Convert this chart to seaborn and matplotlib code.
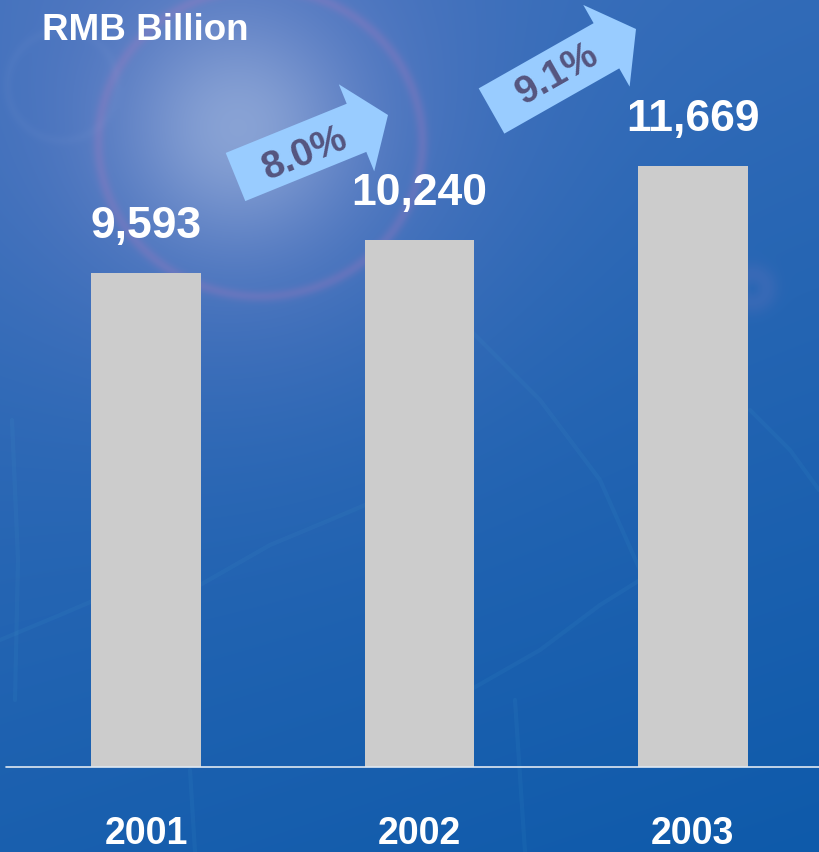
import numpy as np
import pandas as pd
import matplotlib
matplotlib.use("Agg")
import matplotlib.pyplot as plt
import seaborn as sns
from matplotlib.patches import FancyArrow

# --- data -------------------------------------------------------------
years = ["2001", "2002", "2003"]
values = [9593, 10240, 11669]
growth_labels = ["8.0%", "9.1%"]
unit_label = "RMB Billion"

W, H, DPI = 819, 852, 100

sns.set_theme(style="white")
plt.rcParams["font.family"] = ["Liberation Sans", "DejaVu Sans"]


# --- blue slide backdrop with a soft lens flare -------------------------
def backdrop():
    yy, xx = np.mgrid[0:H, 0:W].astype(float)
    top = np.array([60, 112, 188]) / 255
    bottom = np.array([14, 90, 170]) / 255
    t = np.clip(0.75 * yy / H + 0.25 * xx / W, 0, 1)[..., None]
    img = top * (1 - t) + bottom * t

    def blend(img, weight, color):
        w = np.clip(weight, 0, 1)[..., None]
        return img * (1 - w) + np.array(color) / 255 * w

    cx, cy = 238, 128
    r = np.hypot(xx - cx, yy - cy)
    img = blend(img, 0.45 * np.exp(-(r / 250) ** 2), (135, 138, 205))
    img = blend(img, 0.52 * np.exp(-(r / 105) ** 2), (180, 200, 230))
    ring = np.hypot((xx - 260) / 1.0, (yy - 142) / 0.95)
    img = blend(img, 0.24 * np.exp(-((ring - 162) / 6) ** 2), (180, 120, 190))
    small = np.hypot(xx - 62, yy - 85)
    img = blend(img, 0.06 * np.exp(-((small - 55) / 5) ** 2), (150, 170, 220))
    spot = np.hypot(xx - 752, yy - 288)
    img = blend(img, 0.14 * np.exp(-((spot - 14) / 12) ** 2), (160, 130, 200))
    return img


fig = plt.figure(figsize=(W / DPI, H / DPI), dpi=DPI)
bg = fig.add_axes([0, 0, 1, 1])
bg.imshow(backdrop(), extent=[0, W, H, 0], aspect="auto", interpolation="bilinear")
# faint network strands
strands = [
    [(470, 330), (540, 400), (600, 480), (640, 570)],
    [(470, 690), (540, 650), (600, 605), (640, 580)],
    [(200, 585), (270, 545), (330, 520), (365, 505)],
    [(750, 410), (790, 450), (819, 490)],
    [(12, 420), (18, 560), (15, 700)],
    [(190, 770), (195, 852)],
    [(515, 700), (525, 852)],
    [(0, 640), (60, 615), (95, 600)],
]
for s in strands:
    xs, ys = zip(*s)
    bg.plot(xs, ys, color="#4fb0d8", lw=3, alpha=0.08, solid_capstyle="round")
bg.set_xlim(0, W)
bg.set_ylim(H, 0)
bg.axis("off")

# --- bars -------------------------------------------------------------
ax = fig.add_axes([0, 0, 1, 1])
ax.patch.set_alpha(0)
df = pd.DataFrame({"year": years, "value": values})
sns.barplot(data=df, x="year", y="value", color="#cccccc", saturation=1,
            width=0.402, edgecolor="none", linewidth=0, ax=ax)
ax.set_xlim(-0.534, 2.461)
ax.set_ylim(-1650, 14894)
ax.axis("off")
ax.axhline(0, xmin=6 / W, xmax=1, color="#dfe8f2", lw=1.2)

for i, v in enumerate(values):
    ax.annotate(f"{v:,}", (i, v), xytext=(0, 25), textcoords="offset points",
                ha="center", va="baseline", color="white", fontsize=32,
                fontweight="bold")
    ax.text(i, -1500, years[i], ha="center", va="baseline", color="white",
            fontsize=27, fontweight="bold")

fig.text(42 / W, 1 - 40 / H, unit_label, ha="left", va="baseline",
         color="white", fontsize=26.5, fontweight="bold")

# --- growth arrows between the bars -------------------------------------
ov = fig.add_axes([0, 0, 1, 1])
ov.set_xlim(0, W)
ov.set_ylim(H, 0)
ov.axis("off")
ov.patch.set_alpha(0)
arrow_geo = [
    # tail centre, tip, label centre
    ((235.5, 177), (388, 115), (305, 154)),
    ((491.5, 111), (636, 29), (557, 74)),
]
for (tail, tip, centre), label in zip(arrow_geo, growth_labels):
    dx, dy = tip[0] - tail[0], tip[1] - tail[1]
    ov.add_patch(FancyArrow(tail[0], tail[1], dx, dy, width=52, head_width=94,
                            head_length=34, length_includes_head=True,
                            color="#99ccff", lw=0))
    angle = np.degrees(np.arctan2(-dy, dx))
    ov.text(centre[0], centre[1], label, rotation=angle, rotation_mode="anchor",
            ha="center", va="center", color="#55557f", fontsize=28,
            fontweight="bold")

fig.savefig("out.png", dpi=DPI)
